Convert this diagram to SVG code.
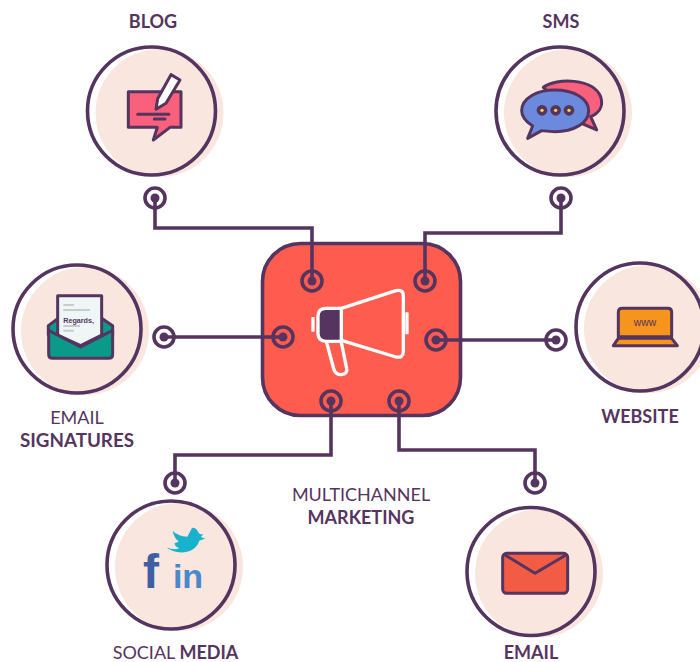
<svg xmlns="http://www.w3.org/2000/svg" width="700" height="662" viewBox="0 0 700 662">
<style>
text{font-family:"Lato","Open Sans","Liberation Sans",sans-serif;fill:#553560;font-size:18px;text-anchor:middle}
.b{font-weight:700}
.l{font-weight:400}
.shadow{fill:#f8e6df}
.ring{fill:none;stroke:#553560;stroke-width:3.6}
.wire{fill:none;stroke:#553560;stroke-width:3.6}
.dot{fill:#553560}
.ic{stroke:#553560;stroke-width:9;stroke-linejoin:round;stroke-linecap:round}
</style>
<rect width="700" height="662" fill="#fff"/>
<g id="hub">
<rect x="262.500" y="243.500" width="198" height="172" rx="38" fill="#ff5c50" stroke="#553560" stroke-width="3.6"/>
<g transform="translate(250,225) scale(.3333)" fill="none" stroke="#fff" stroke-width="10" stroke-linejoin="round">
<path d="M274 250L438 197Q460 192 460 212V380Q460 400 438 396L274 346Z"/>
<path d="M274 250H228Q204 250 204 274V325Q204 349 228 349H274Z" fill="#553560" stroke="#fff"/>
<path d="M230 352L252 435Q258 450 274 449Q294 446 290 430L274 352" />
<rect x="186" y="278" width="6" height="40" fill="#fff" stroke-width="4"/>
<rect x="468" y="264" width="6" height="62" fill="#fff" stroke-width="4"/>
</g>
</g>
<g id="connectors">
<path class="wire" d="M155 198V228H312V281"/>
<path class="wire" d="M561 198V233H425V281"/>
<path class="wire" d="M164 337H283"/>
<path class="wire" d="M436 340H556"/>
<path class="wire" d="M331 401V455H175V483"/>
<path class="wire" d="M399 401V450H535V483"/>
</g>
<g id="ports" fill="none">
<g id="p1"><circle class="ring" cx="155" cy="198" r="10"/><circle class="dot" cx="155" cy="198" r="4.5"/></g>
<g id="p2"><circle class="ring" cx="561" cy="198" r="10"/><circle class="dot" cx="561" cy="198" r="4.5"/></g>
<g id="p3"><circle class="ring" cx="164" cy="337" r="10"/><circle class="dot" cx="164" cy="337" r="4.5"/></g>
<g id="p4"><circle class="ring" cx="556" cy="340" r="10"/><circle class="dot" cx="556" cy="340" r="4.5"/></g>
<g id="p5"><circle class="ring" cx="175" cy="483" r="10"/><circle class="dot" cx="175" cy="483" r="4.5"/></g>
<g id="p6"><circle class="ring" cx="535" cy="483" r="10"/><circle class="dot" cx="535" cy="483" r="4.5"/></g>
<g id="h1"><circle class="ring" cx="312" cy="281" r="10"/><circle class="dot" cx="312" cy="281" r="4.5"/></g>
<g id="h2"><circle class="ring" cx="425" cy="281" r="10"/><circle class="dot" cx="425" cy="281" r="4.5"/></g>
<g id="h3"><circle class="ring" cx="283" cy="337" r="10"/><circle class="dot" cx="283" cy="337" r="4.5"/></g>
<g id="h4"><circle class="ring" cx="436" cy="340" r="10"/><circle class="dot" cx="436" cy="340" r="4.5"/></g>
<g id="h5"><circle class="ring" cx="331" cy="401" r="10"/><circle class="dot" cx="331" cy="401" r="4.5"/></g>
<g id="h6"><circle class="ring" cx="399" cy="401" r="10"/><circle class="dot" cx="399" cy="401" r="4.5"/></g>
</g>
<g id="blog">
<circle class="shadow" cx="159.500" cy="113" r="64"/><circle class="ring" cx="151.500" cy="111" r="64"/>
<g transform="translate(70,0) scale(.3333)">
<path class="ic" fill="#f9607c" d="M175 275H333V382H300L250 420L262 382H175Z"/>
<path class="ic" fill="#fff" d="M258 328L263 296L303 224L330 240L288 310Z"/>
<path class="ic" fill="none" d="M203 343H297M253 357H285"/>
</g>
<text class="b" x="153" y="28">BLOG</text>
</g>
<g id="sms">
<circle class="shadow" cx="568" cy="113" r="64"/><circle class="ring" cx="560" cy="111" r="64"/>
<g transform="translate(480,0) scale(.3333)">
<path class="ic" fill="#f9607c" d="M190 262C230 232 340 235 362 290C372 320 355 340 332 350L350 390L308 372Z"/>
<path class="ic" fill="#6b8ade" d="M225 270C280 270 326 295 326 332C326 370 280 395 225 395C210 395 195 393 185 392L143 415L158 378C138 365 125 350 125 332C125 295 170 270 225 270Z"/>
<g fill="#553560"><circle cx="186" cy="331" r="16"/><circle cx="227" cy="331" r="16"/><circle cx="267" cy="331" r="16"/></g>
<g fill="#f7d83f"><circle cx="186" cy="331" r="5"/><circle cx="227" cy="331" r="5"/><circle cx="267" cy="331" r="5"/></g>
</g>
<text class="b" x="561" y="28">SMS</text>
</g>
<g id="signatures">
<circle class="shadow" cx="85" cy="331" r="64"/><circle class="ring" cx="77" cy="329" r="64"/>
<g transform="translate(0,255) scale(.3333)">
<path class="ic" fill="#0a9a8a" d="M145 212L175 190H305L338 212V240H145Z"/>
<path class="ic" fill="#eef6f6" d="M173 122H305V240L242 272L173 240Z"/>
<path fill="none" stroke="#c9cccc" stroke-width="6" d="M190 150H222M190 165H270M190 213H240M190 227H222"/>
<text x="190" y="204" style="font-family:'Liberation Sans',sans-serif;font-size:21px;font-weight:700;text-anchor:start" textLength="92" lengthAdjust="spacingAndGlyphs">Regards,</text>
<path class="ic" fill="#0a9a8a" d="M146 226L242 276L338 226V298Q338 310 326 310H158Q146 310 146 298Z"/>
</g>
<text class="l" x="77" y="424">EMAIL</text>
<text class="b" x="77" y="447" style="font-size:18.800px">SIGNATURES</text>
</g>
<g id="website">
<circle class="shadow" cx="648" cy="329" r="64"/><circle class="ring" cx="640" cy="327" r="64"/>
<g transform="translate(530,255) scale(.3333)">
<path class="ic" fill="#f7941e" d="M265 245V172Q265 160 277 160H413Q425 160 425 172V245Z"/>
<path class="ic" fill="#f7941e" d="M265 250L250 272H442L425 250Z"/>
<text x="345" y="214" style="font-family:'Liberation Sans',sans-serif;font-size:31px">www</text>
</g>
<text class="b" x="640" y="423">WEBSITE</text>
</g>
<g id="social">
<circle class="shadow" cx="179" cy="567" r="64"/><circle class="ring" cx="171" cy="565" r="64"/>
<path fill="#18b2cc" transform="translate(100,470) scale(.3333)" d="M200 232C225 255 285 255 298 212C305 210 312 207 316 204C310 204 306 203 303 200L310 192C302 194 298 192 294 185C290 176 282 172 276 174L262 200C245 200 228 192 218 183C222 200 228 208 236 214C230 220 222 218 224 222C226 230 232 232 238 235C225 240 212 238 200 232Z"/>
<text x="151" y="588" style="font-family:'Liberation Sans',sans-serif;font-size:48px;font-weight:700;fill:#3e60a3">f</text>
<text x="188" y="588" style="font-family:'Liberation Sans',sans-serif;font-size:34px;font-weight:700;fill:#4a88c9">in</text>
<text x="175.500" y="659"><tspan class="l">SOCIAL </tspan><tspan class="b">MEDIA</tspan></text>
</g>
<g id="email">
<circle class="shadow" cx="539" cy="573.500" r="64"/><circle class="ring" cx="531" cy="571.500" r="64"/>
<g transform="translate(450,470) scale(.3333)">
<rect class="ic" x="158" y="250" width="195" height="120" rx="12" fill="#f25c45"/>
<path class="ic" fill="none" d="M165 255L255 310L348 255"/>
</g>
<text class="b" x="531" y="659">EMAIL</text>
</g>
<g id="title">
<text class="l" x="361" y="501">MULTICHANNEL</text>
<text class="b" x="361" y="524">MARKETING</text>
</g>
</svg>
